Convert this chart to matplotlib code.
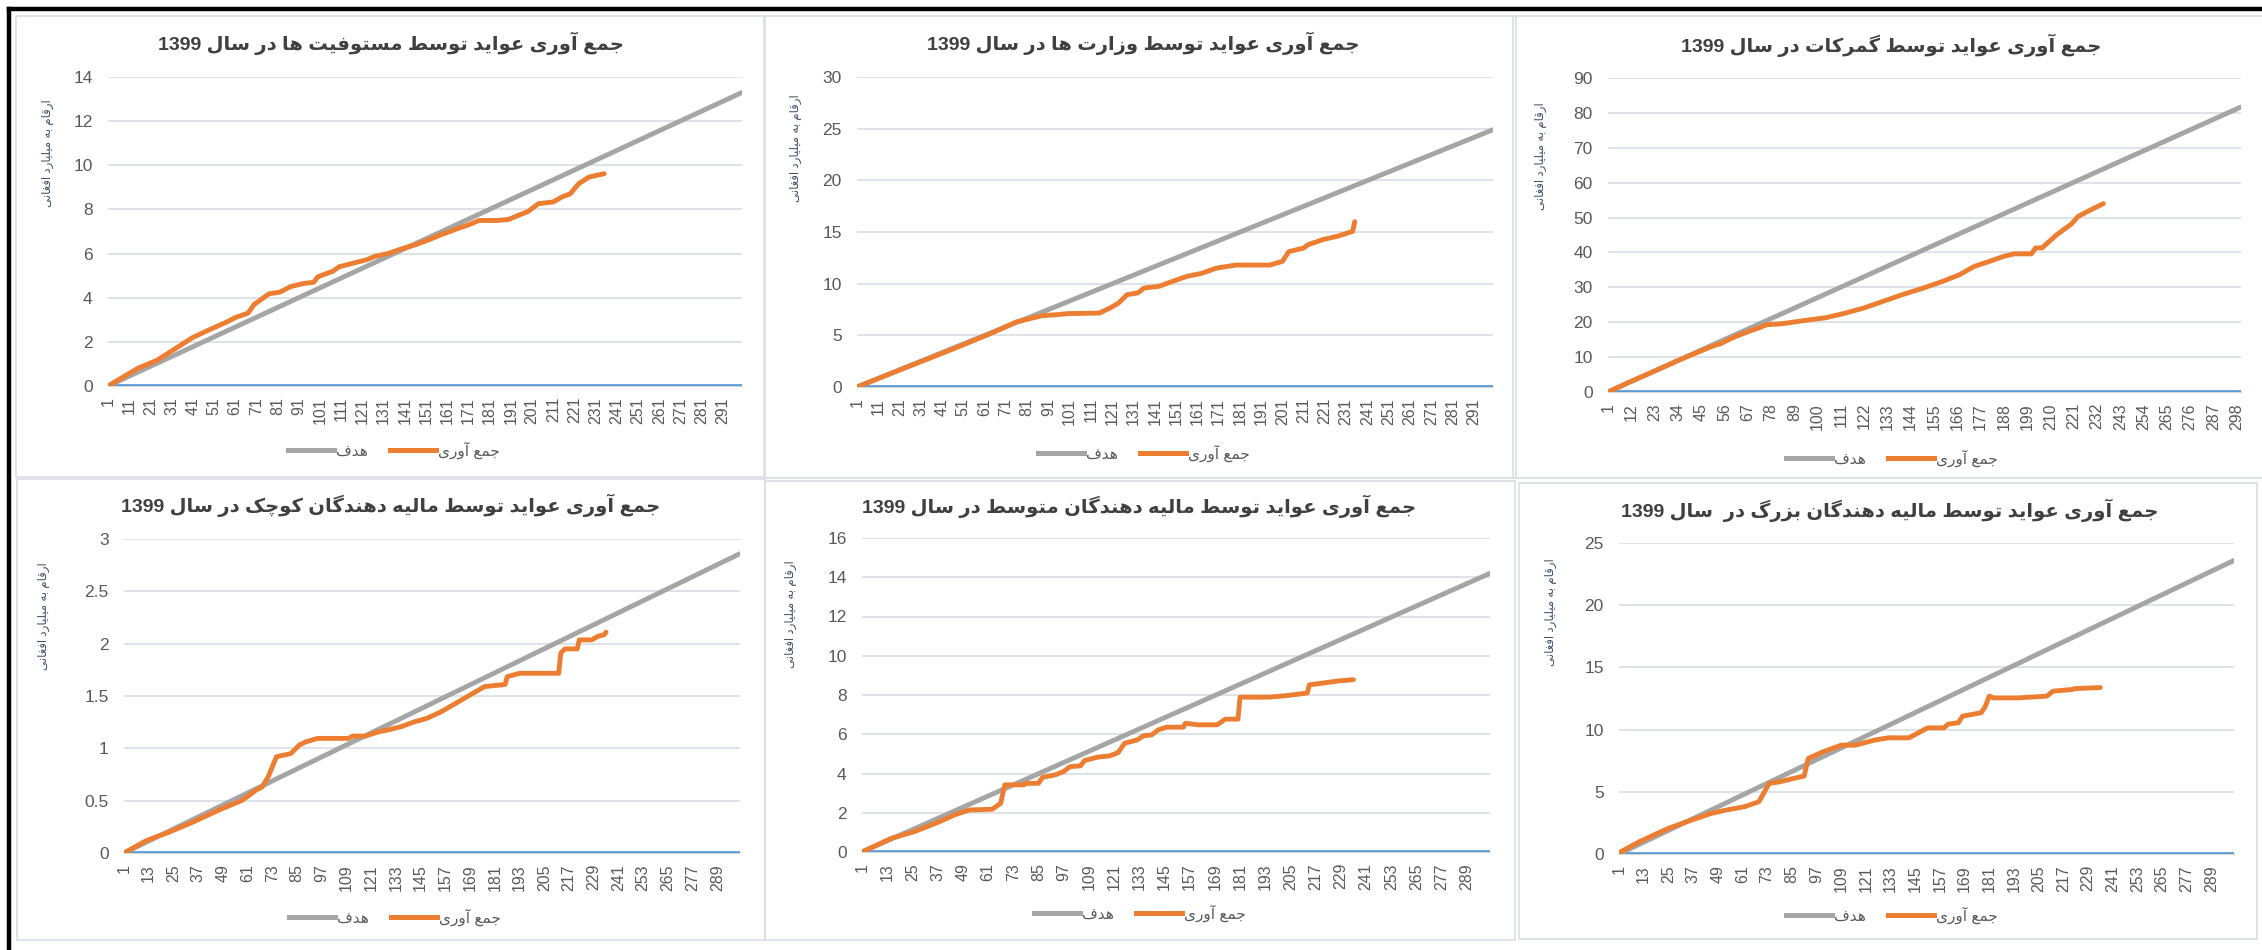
"""Cumulative revenue collection vs target, 1399 - six panel dashboard."""

import matplotlib

matplotlib.use("Agg")
import matplotlib.pyplot as plt
import numpy as np
from matplotlib.lines import Line2D
from matplotlib.patches import Rectangle
from matplotlib.ticker import FuncFormatter

plt.rcParams["font.family"] = ["Liberation Sans", "DejaVu Sans"]

W, H = 2262, 950

TITLES = [
    "جمع آوری عواید توسط مستوفیت ها در سال 1399",
    "جمع آوری عواید توسط وزارت ها در سال 1399",
    "جمع آوری عواید توسط گمرکات در سال 1399",
    "جمع آوری عواید توسط مالیه دهندگان کوچک در سال 1399",
    "جمع آوری عواید توسط مالیه دهندگان متوسط در سال 1399",
    "جمع آوری عواید توسط مالیه دهندگان بزرگ در  سال 1399",
]
Y_LABEL = "ارقام به میلیارد افغانی"
LEGEND_TARGET = "هدف"
LEGEND_ACTUAL = "جمع آوری"

N_DAYS = 300
Y_MAX = [14, 30, 90, 3, 16, 25]
Y_STEP = [2, 5, 10, 0.5, 2, 5]
X_STEP = [10, 10, 11, 12, 12, 12]

# target line: starts at 0 on day 1, ends here on day 300
TARGET_END = [13.3, 24.9, 81.7, 2.86, 14.2, 23.6]

DAYS_1 = [1, 15, 24, 34, 41, 50, 57, 61, 67, 70, 77, 82, 87, 93, 98, 100, 107, 110, 114, 123,
          127, 133, 139, 146, 153, 158, 165, 171, 176, 185, 190, 195, 199, 204, 211, 215, 219,
          223, 228, 235]
VALS_1 = [0, 0.8, 1.16, 1.77, 2.2, 2.6, 2.9, 3.1, 3.3, 3.7, 4.18, 4.25, 4.5, 4.64, 4.7, 4.95,
          5.2, 5.4, 5.5, 5.72, 5.88, 6.0, 6.2, 6.4, 6.65, 6.85, 7.1, 7.3, 7.5, 7.5, 7.55, 7.75,
          7.9, 8.26, 8.34, 8.56, 8.71, 9.17, 9.47, 9.62]

DAYS_2 = [1, 15, 31, 47, 63, 76, 88, 95, 100, 115, 120, 124, 128, 133, 136, 143, 149, 156, 163,
          170, 179, 195, 201, 204, 211, 213, 220, 227, 234, 235]
VALS_2 = [0, 1.15, 2.45, 3.75, 5.1, 6.3, 6.9, 7.0, 7.1, 7.16, 7.65, 8.13, 8.94, 9.1, 9.58, 9.74,
          10.2, 10.7, 11.0, 11.5, 11.8, 11.8, 12.16, 13.1, 13.45, 13.77, 14.26, 14.6, 15.06, 16.0]

DAYS_3 = [1, 11, 23, 34, 45, 51, 54, 59, 63, 68, 72, 76, 82, 86, 95, 104, 113, 122, 131, 140,
          150, 159, 167, 174, 181, 188, 193, 201, 203, 206, 213, 220, 223, 229, 235]
VALS_3 = [0, 2.8, 6.0, 9.0, 11.8, 13.3, 13.8, 15.3, 16.3, 17.5, 18.3, 19.3, 19.5, 19.8, 20.6,
          21.3, 22.6, 24.1, 26.0, 27.9, 29.8, 31.7, 33.6, 36.0, 37.4, 38.9, 39.6, 39.6, 41.3,
          41.3, 45.1, 48.2, 50.3, 52.2, 54.0]

DAYS_4 = [1, 12, 23, 35, 47, 58, 61, 65, 68, 71, 75, 82, 86, 89, 95, 110, 112, 118, 125, 129,
          136, 142, 148, 155, 162, 169, 176, 186, 187, 193, 212, 213, 215, 221, 222, 228, 231,
          234, 235]
VALS_4 = [0, 0.12, 0.2, 0.3, 0.41, 0.5, 0.54, 0.6, 0.63, 0.728, 0.92, 0.95, 1.03, 1.06,
          1.095, 1.095, 1.117, 1.117, 1.16, 1.175, 1.21, 1.254, 1.286, 1.35, 1.43, 1.51, 1.59,
          1.61, 1.685, 1.717, 1.717, 1.91, 1.95, 1.95, 2.036, 2.036, 2.07, 2.085, 2.11]

DAYS_5 = [1, 15, 26, 38, 45, 52, 63, 67, 69, 78, 79, 85, 87, 93, 97, 100, 105, 107, 113, 119,
          123, 126, 132, 135, 139, 142, 146, 154, 155, 161, 170, 174, 180, 181, 195, 204, 213,
          214, 220, 228, 235]
VALS_5 = [0, 0.7, 1.04, 1.55, 1.89, 2.14, 2.18, 2.48, 3.42, 3.42, 3.5, 3.5, 3.81, 3.93, 4.1,
          4.35, 4.39, 4.66, 4.83, 4.9, 5.07, 5.54, 5.71, 5.92, 5.97, 6.22, 6.36, 6.36, 6.56, 6.48,
          6.48, 6.77, 6.77, 7.89, 7.89, 7.98, 8.1, 8.52, 8.6, 8.72, 8.78]

DAYS_6 = [1, 11, 25, 34, 46, 53, 62, 69, 74, 79, 86, 91, 93, 100, 109, 116, 125, 132, 142, 146,
          151, 159, 161, 166, 168, 177, 179, 181, 183, 195, 209, 212, 221, 223, 235]
VALS_6 = [0.1, 1.0, 2.06, 2.6, 3.27, 3.53, 3.8, 4.2, 5.67, 5.8, 6.08, 6.26, 7.68, 8.2, 8.75,
          8.75, 9.15, 9.34, 9.34, 9.69, 10.14, 10.14, 10.44, 10.55, 11.08, 11.35, 11.83, 12.69,
          12.55, 12.55, 12.69, 13.09, 13.22, 13.3, 13.38]

ACTUAL = [(DAYS_1, VALS_1), (DAYS_2, VALS_2), (DAYS_3, VALS_3),
          (DAYS_4, VALS_4), (DAYS_5, VALS_5), (DAYS_6, VALS_6)]

GRAY = "#A5A5A5"
ORANGE = "#ED7D31"
BLUE = "#5B9BD5"
TEXT = "#595959"

# layout in reference pixels: (left, top, right, bottom)
PANELS = [(16, 16, 764, 477), (765, 16, 1516, 478), (1513, 16, 2268, 478),
          (17, 479, 765, 940), (765, 481, 1515, 940), (1519, 483, 2257, 939)]
PLOTS = [(108, 77, 742, 386), (857, 77, 1493, 387), (1608, 78, 2241, 392),
         (124, 539, 740, 853), (862, 538, 1490, 852), (1619, 543, 2234, 854)]
TITLE_XY = [(391, 43), (1143, 43), (1891, 45), (391, 505), (1139, 506), (1890, 510)]
LEGEND_XY = [(394, 450), (1144, 453), (1892, 458), (395, 917), (1140, 913), (1892, 915)]
YLABEL_XY = [(48, 153), (796, 148), (1541, 156), (44, 616), (791, 614), (1551, 612)]

# Arabic-script contextual forms: isolated, final, initial, medial
FORMS = {
    "ا": ("\ufe8d", "\ufe8e", None, None),
    "آ": ("\ufe81", "\ufe82", None, None),
    "ب": ("\ufe8f", "\ufe90", "\ufe91", "\ufe92"),
    "ت": ("\ufe95", "\ufe96", "\ufe97", "\ufe98"),
    "ج": ("\ufe9d", "\ufe9e", "\ufe9f", "\ufea0"),
    "چ": ("\ufb7a", "\ufb7b", "\ufb7c", "\ufb7d"),
    "د": ("\ufea9", "\ufeaa", None, None),
    "ر": ("\ufead", "\ufeae", None, None),
    "ز": ("\ufeaf", "\ufeb0", None, None),
    "س": ("\ufeb1", "\ufeb2", "\ufeb3", "\ufeb4"),
    "ط": ("\ufec1", "\ufec2", "\ufec3", "\ufec4"),
    "ع": ("\ufec9", "\ufeca", "\ufecb", "\ufecc"),
    "غ": ("\ufecd", "\ufece", "\ufecf", "\ufed0"),
    "ف": ("\ufed1", "\ufed2", "\ufed3", "\ufed4"),
    "ق": ("\ufed5", "\ufed6", "\ufed7", "\ufed8"),
    "ک": ("\ufb8e", "\ufb8f", "\ufb90", "\ufb91"),
    "گ": ("\ufb92", "\ufb93", "\ufb94", "\ufb95"),
    "ل": ("\ufedd", "\ufede", "\ufedf", "\ufee0"),
    "م": ("\ufee1", "\ufee2", "\ufee3", "\ufee4"),
    "ن": ("\ufee5", "\ufee6", "\ufee7", "\ufee8"),
    "و": ("\ufeed", "\ufeee", None, None),
    "ه": ("\ufee9", "\ufeea", "\ufeeb", "\ufeec"),
    "ی": ("\ufbfc", "\ufbfd", "\ufbfe", "\ufbff"),
}


def shape_word(word: str) -> str:
    out = []
    for i, ch in enumerate(word):
        forms = FORMS.get(ch)
        if forms is None:
            out.append(ch)
            continue
        prev = FORMS.get(word[i - 1]) if i > 0 else None
        nxt = FORMS.get(word[i + 1]) if i < len(word) - 1 else None
        join_prev = prev is not None and prev[2] is not None
        join_next = forms[2] is not None and nxt is not None
        if join_prev and join_next:
            out.append(forms[3])
        elif join_prev:
            out.append(forms[1])
        elif join_next:
            out.append(forms[2])
        else:
            out.append(forms[0])
    return "".join(reversed(out))


def rtl(text: str) -> str:
    words = [w if w.isdigit() else shape_word(w) for w in text.split(" ")]
    return " ".join(reversed(words))


def fx(x: float) -> float:
    return x / W


def fy(y: float) -> float:
    return 1 - y / H


def main() -> None:
    fig = plt.figure(figsize=(W / 100, H / 100), dpi=100)
    fig.patch.set_facecolor("white")

    # outer black frame (top and left only)
    fig.add_artist(Line2D([fx(9), fx(W)], [fy(9), fy(9)], color="black", lw=3.2,
                          transform=fig.transFigure))
    fig.add_artist(Line2D([fx(9), fx(9)], [fy(9), fy(H)], color="black", lw=3.2,
                          transform=fig.transFigure))

    for i in range(6):
        l, t, r, b = PANELS[i]
        fig.add_artist(Rectangle((fx(l), fy(b)), fx(r - l), (b - t) / H, fill=False,
                                 edgecolor="#DCE0E6", lw=1.3, transform=fig.transFigure))

        l, t, r, b = PLOTS[i]
        ax = fig.add_axes([fx(l), fy(b), fx(r - l), (b - t) / H])
        days, vals = ACTUAL[i]

        ax.plot([1, N_DAYS], [0, 0], color=BLUE, lw=3.4, zorder=3, solid_capstyle="butt")
        ax.plot([1, N_DAYS], [0, TARGET_END[i]], color=GRAY, lw=3.5, zorder=4,
                solid_capstyle="round")
        ax.plot(days, vals, color=ORANGE, lw=3.5, zorder=5, solid_capstyle="round",
                solid_joinstyle="round")

        ax.set_xlim(1, N_DAYS)
        ax.set_ylim(0, Y_MAX[i])
        ax.set_yticks(np.arange(0, Y_MAX[i] + Y_STEP[i] / 2, Y_STEP[i]))
        ax.yaxis.set_major_formatter(FuncFormatter(lambda v, _: f"{v:g}"))
        ax.set_xticks(np.arange(1, N_DAYS + 1, X_STEP[i]))
        ax.tick_params(axis="x", labelrotation=90, labelsize=11.5, colors=TEXT, length=0, pad=8)
        ax.tick_params(axis="y", labelsize=12.5, colors=TEXT, length=0, pad=11)
        ax.grid(axis="y", color="#DCE0E6", lw=1.3)
        ax.set_axisbelow(True)
        for side in ("top", "right", "left"):
            ax.spines[side].set_visible(False)
        ax.spines["bottom"].set_color("#D9D9D9")

        tx, ty = TITLE_XY[i]
        fig.text(fx(tx), fy(ty), rtl(TITLES[i]), ha="center", va="center", fontsize=14,
                 fontweight="bold", color="#404040")

        lx, ly = YLABEL_XY[i]
        fig.text(fx(lx), fy(ly), rtl(Y_LABEL), ha="center", va="center", rotation=90,
                 fontsize=8.5, color="#44546A")

        handles = [Line2D([], [], color=GRAY, lw=3.6), Line2D([], [], color=ORANGE, lw=3.6)]
        gx, gy = LEGEND_XY[i]
        ax.legend(handles, [rtl(LEGEND_TARGET), rtl(LEGEND_ACTUAL)], loc="center",
                  bbox_to_anchor=(fx(gx), fy(gy)), bbox_transform=fig.transFigure, ncol=2,
                  frameon=False, fontsize=11, labelcolor=TEXT, handlelength=3.0,
                  handletextpad=0.15, columnspacing=1.4)

    fig.savefig("out.png", dpi=100)
    plt.close(fig)


if __name__ == "__main__":
    main()
